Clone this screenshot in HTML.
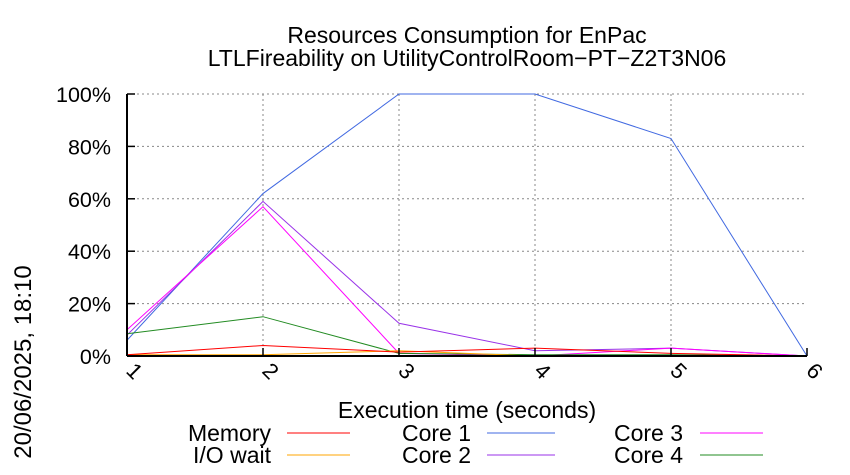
<!DOCTYPE html>
<html><head><meta charset="utf-8"><style>
body{margin:0;background:#fff;}
svg{display:block;font-family:"Liberation Sans",sans-serif;}
</style></head><body>
<svg id="chart" width="850" height="475" viewBox="0 0 850 475">
<rect width="850" height="475" fill="#fff"/>
<text x="467" y="43" font-size="23" text-anchor="middle">Resources Consumption for EnPac</text>
<text x="467" y="66" font-size="23" text-anchor="middle">LTLFireability on UtilityControlRoom−PT−Z2T3N06</text>
<text transform="translate(31,362) rotate(-90)" font-size="24" text-anchor="middle">20/06/2025, 18:10</text>
<text x="467" y="418" font-size="23" text-anchor="middle">Execution time (seconds)</text>
<g id="grid"></g>
<g id="series"></g>
<g id="axes"></g>
<g id="legend"></g>
</svg>
<script>
const xCategories = [1, 2, 3, 4, 5, 6];
const yTicks = [0, 20, 40, 60, 80, 100];
const yTickLabels = ["0%", "20%", "40%", "60%", "80%", "100%"];
const seriesNames = ["Memory", "I/O wait", "Core 1", "Core 2", "Core 3", "Core 4"];
const memory = [0.5, 4, 1.5, 3, 1, 0];
const ioWait = [0.5, 0.5, 2, 0, 0, 0];
const core1 = [6, 62, 100, 100, 83, 0];
const core2 = [8, 59, 12.5, 2, 3, 0];
const core3 = [10, 57, 1, 0, 3, 0];
const core4 = [8.5, 15, 1, 0.5, 0.5, 0];

const NS = "http://www.w3.org/2000/svg";
const L = 127, R = 807, T = 94, B = 356;
function xs(v){ return L + (v - 1) * (R - L) / 5; }
function ys(v){ return B - v * (B - T) / 100; }
function mk(tag, attrs, parent){ const e = document.createElementNS(NS, tag); for (const k in attrs) e.setAttribute(k, attrs[k]); parent.appendChild(e); return e; }

const grid = document.getElementById('grid'), axes = document.getElementById('axes');
yTicks.forEach((t, i) => {
  const y = ys(t);
  if (t > 0) {
    const g = mk('line', {x1:L, x2:R, y1:y, y2:y, stroke:'#888', 'stroke-dasharray':'2,3', 'stroke-width':1}, grid);
    
    
  }
  const tk = mk('line', {x1:L, x2:L+8, y1:y, y2:y, stroke:'#000', 'stroke-width':1.5}, axes);
  
  
  const lb = mk('text', {x:111, y:y+8, 'font-size':21.5, 'text-anchor':'end'}, axes);
  lb.textContent = yTickLabels[i];
  
  
});
xCategories.forEach(c => {
  const x = xs(c);
  if (c > 1 && c < 6) {
    const g = mk('line', {x1:x, x2:x, y1:T, y2:B, stroke:'#888', 'stroke-dasharray':'2,3', 'stroke-width':1}, grid);
    
    
  }
  const tk = mk('line', {x1:x, x2:x, y1:B, y2:B-8, stroke:'#000', 'stroke-width':1.5}, axes);
  
  
  const lb = mk('text', {x:0, y:0, 'font-size':22, transform:`translate(${x-2},${B+16}) rotate(45)`}, axes);
  lb.textContent = String(c);
  
  
});
const ax1 = mk('line', {x1:L, x2:L, y1:T, y2:B, stroke:'#000', 'stroke-width':2}, axes);


const ax2 = mk('line', {x1:L, x2:R, y1:B, y2:B, stroke:'#000', 'stroke-width':2}, axes);



const colors = ['#ff0000', '#ffa500', '#4169e1', '#9932e8', '#ff00ff', '#228b22'];
const allSeries = [memory, ioWait, core1, core2, core3, core4];
const sg = document.getElementById('series');
const drawOrder = [2, 3, 4, 5, 1, 0];
drawOrder.forEach(i => {
  const pts = allSeries[i].map((v, j) => xs(xCategories[j]) + ',' + ys(v)).join(' ');
  const p = mk('polyline', {points:pts, fill:'none', stroke:colors[i], 'stroke-width':1}, sg);
  
  
});

const lg = document.getElementById('legend');
const cols = [[271, 287, 350], [471, 487, 555], [683, 700, 763]];
const rows = [433, 455];
seriesNames.forEach((n, i) => {
  const c = cols[Math.floor(i / 2)], y = rows[i % 2];
  const t = mk('text', {x:c[0], y:y+8, 'font-size':23, 'text-anchor':'end'}, lg);
  t.textContent = n;
  
  
  const ln = mk('line', {x1:c[1], x2:c[2], y1:y, y2:y, stroke:colors[i], 'stroke-width':1}, lg);
  
  
});
</script>
</body></html>
